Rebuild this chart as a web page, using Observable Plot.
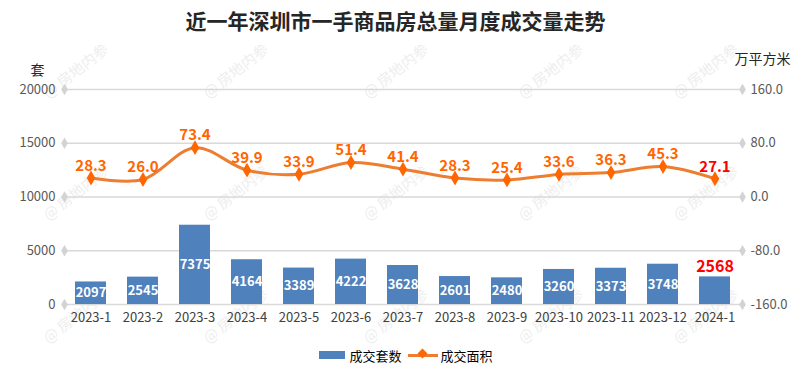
<!DOCTYPE html>
<html><head><meta charset="utf-8">
<script src="https://cdn.jsdelivr.net/npm/d3@7"></script>
<script src="https://cdn.jsdelivr.net/npm/@observablehq/plot@0.6"></script>
<style>
body{margin:0;background:#fff;font-family:"Noto Sans CJK SC","Noto Sans",sans-serif;}
#wrap{position:relative;width:812px;height:389px;overflow:hidden;background:#fff}
#chart{position:absolute;left:0;top:0;z-index:1}
.legend{position:absolute;left:0;top:345px;width:812px;height:20px;display:flex;justify-content:center;align-items:center;font-size:13px;color:#000;z-index:1}
.legend .sw{display:inline-block;width:26px;height:8px;background:#4f81bd;margin-right:4px}
.legend .ln{display:inline-block;position:relative;width:30px;height:3px;background:#ed7d31;margin:0 3px 0 6px}
.legend .ln i{position:absolute;left:11px;top:-3.5px;width:7px;height:7px;background:#ff6600;transform:rotate(45deg)}
.wm{position:absolute;color:#eeeeee;font-size:15px;transform:translate(-50%,-50%) rotate(-38deg);white-space:nowrap;pointer-events:none;z-index:0}
</style></head><body><div id="wrap"><div id="chart"></div>
<div class="legend"><span class="sw"></span><span>成交套数</span><span class="ln"><i></i></span><span>成交面积</span></div>
</div>
<script>
const titleText = "近一年深圳市一手商品房总量月度成交量走势";
const months = ["2023-1","2023-2","2023-3","2023-4","2023-5","2023-6","2023-7","2023-8","2023-9","2023-10","2023-11","2023-12","2024-1"];
const units = [2097,2545,7375,4164,3389,4222,3628,2601,2480,3260,3373,3748,2568];
const area = [28.3,26.0,73.4,39.9,33.9,51.4,41.4,28.3,25.4,33.6,36.3,45.3,27.1];
const leftTicks = [0,5000,10000,15000,20000];
const rightDomain = [-160,160];
const leftDomain = [0,20000];
const watermark = "@ 房地内参";

const toY = v => (v - rightDomain[0]) / (rightDomain[1] - rightDomain[0]) * (leftDomain[1] - leftDomain[0]) + leftDomain[0];
const fromY = y => (y - leftDomain[0]) / (leftDomain[1] - leftDomain[0]) * (rightDomain[1] - rightDomain[0]) + rightDomain[0];

const data = months.map((m, i) => ({month: m, units: units[i], area: area[i], ya: toY(area[i]), last: i === months.length - 1}));
const font = '"Noto Sans CJK SC","Noto Sans",sans-serif';

const chart = Plot.plot({
  width: 812, height: 340,
  marginTop: 89, marginBottom: 36, marginLeft: 64, marginRight: 70,
  style: {fontFamily: font, background: "transparent", overflow: "visible"},
  x: {domain: months, paddingInner: 0.4, paddingOuter: 0.2, label: null},
  y: {domain: leftDomain, label: null},
  marks: [
    Plot.ruleY(leftTicks, {y: d => d, stroke: "#d9d9d9", strokeWidth: 1.3}),
    Plot.dot(leftTicks, {y: d => d, frameAnchor: "left", symbol: "diamond", r: 3.5, fill: "#d3d3d3"}),
    Plot.dot(leftTicks, {y: d => d, frameAnchor: "right", symbol: "diamond", r: 3.5, fill: "#d3d3d3"}),
    Plot.axisY({ticks: leftTicks, tickFormat: d => String(d), tickSize: 0, tickPadding: 9, fontSize: 13, color: "#595959", label: null}),
    Plot.axisY({anchor: "right", ticks: leftTicks, tickFormat: d => fromY(d).toFixed(1), tickSize: 0, tickPadding: 8, fontSize: 13, color: "#595959", label: null}),
    Plot.axisX({tickSize: 0, tickPadding: 8, fontSize: 13, color: "#404040", label: null}),
    Plot.barY(data, {x: "month", y: "units", fill: "#4f81bd"}),
    Plot.text(data.filter(d => !d.last), {x: "month", y: d => d.units / 2, text: d => String(d.units), fill: "white", fontWeight: "bold", fontSize: 13}),
    Plot.text(data.filter(d => d.last), {x: "month", y: "units", text: d => String(d.units), dy: -10, fill: "#ff0000", fontWeight: "bold", fontSize: 16}),
    Plot.line(data, {x: "month", y: "ya", stroke: "#ed7d31", strokeWidth: 3, curve: "catmull-rom"}),
    Plot.dot(data, {x: "month", y: "ya", symbol: "diamond", r: 4.5, fill: "#ff6600"}),
    Plot.text(data.filter(d => !d.last), {x: "month", y: "ya", text: d => d.area.toFixed(1), dy: -12, fill: "#ff6600", fontWeight: "bold", fontSize: 15}),
    Plot.text(data.filter(d => d.last), {x: "month", y: "ya", text: d => d.area.toFixed(1), dy: -12, fill: "#ff0000", fontWeight: "bold", fontSize: 15}),
    Plot.text([titleText], {text: d => d, frameAnchor: "top", lineAnchor: "middle", dx: -8, dy: -67, fontSize: 21, fontWeight: "bold", fill: "#262626"}),
    Plot.text(["套"], {text: d => d, frameAnchor: "top-left", textAnchor: "middle", lineAnchor: "middle", dx: -27, dy: -19, fontSize: 14, fill: "#262626"}),
    Plot.text(["万平方米"], {text: d => d, frameAnchor: "top-right", textAnchor: "middle", lineAnchor: "middle", dx: 20, dy: -30, fontSize: 14, fill: "#262626"})
  ]
});
document.getElementById("chart").appendChild(chart);

// faint watermarks behind the chart
const wrap = document.getElementById("wrap");
const wmRows = [70, 192, 315];
const wmCols = [75, 235, 395, 550, 705];
wmRows.forEach(y => wmCols.forEach(x => {
  const s = document.createElement("span");
  s.className = "wm";
  s.textContent = watermark;
  s.style.left = x + "px";
  s.style.top = y + "px";
  wrap.appendChild(s);
}));
</script></body></html>
